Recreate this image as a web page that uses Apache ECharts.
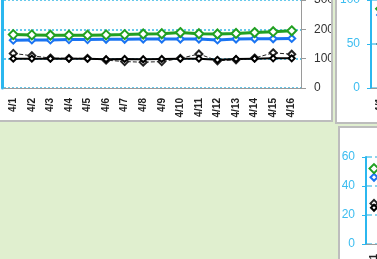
<!DOCTYPE html>
<html>
<head>
<meta charset="utf-8">
<script src="https://cdn.jsdelivr.net/npm/echarts@6/dist/echarts.min.js"></script>
<style>
  html, body { margin: 0; padding: 0; width: 377px; height: 259px; overflow: hidden; background: #e0efcf; }
  .panel { position: absolute; box-sizing: border-box; background: #fff; border: 2px solid #bdbdbd; }
  .chart { position: absolute; }
</style>
</head>
<body>
<div class="panel" style="left:-12px;top:-12px;width:345px;height:134px;"></div>
<div class="panel" style="left:335px;top:-12px;width:60px;height:136px;"></div>
<div class="panel" style="left:338px;top:126px;width:60px;height:150px;"></div>
<div id="main" class="chart" style="left:0;top:0;width:331px;height:120px;"></div>
<div id="sideTop" class="chart" style="left:337px;top:0;width:360px;height:122px;"></div>
<div id="sideBottom" class="chart" style="left:340px;top:128px;width:360px;height:131px;"></div>

<script>
// categories
var days = ['4/1', '4/2', '4/3', '4/4', '4/5', '4/6', '4/7', '4/8',
            '4/9', '4/10', '4/11', '4/12', '4/13', '4/14', '4/15', '4/16'];

// main chart values
var greenVals = [182, 181, 180, 180, 180, 181, 182, 184, 185, 189, 185, 184, 186, 189, 192, 195];
var blueVals  = [163, 164, 164, 165, 165, 166, 166, 167, 167, 167, 167, 164, 167, 168, 168, 169];
var blackVals = [100, 100, 100, 100, 100, 98, 99, 98, 99, 100, 100, 96, 99, 100, 101, 101];
var dashVals  = [118, 110, 102, 101, 101, 95, 90, 88, 90, 101, 116, 93, 96, 102, 120, 115];
var mainTicks = [0, 100, 200, 300];

// side charts (only the first points are in view)
var topGreen = [90];
var topBlue  = [83];
var topBlack = [50];
var topTicks = [0, 50, 100];

var botGreen = [52];
var botBlue  = [46];
var botBlack = [25];
var botDash  = [28];
var botTicks = [0, 20, 40, 60];

var cyan = '#2bb7ef';
var font = 'Liberation Sans';

function lineSeries(name, data, color, width, dashed, size) {
  return {
    name: name,
    type: 'line',
    data: data,
    symbol: 'emptyDiamond',
    symbolSize: size,
    showAllSymbol: true,
    lineStyle: { color: color, width: width, type: dashed ? 'dashed' : 'solid' },
    itemStyle: { color: color, borderWidth: 1.5 }
  }
}

function step(ticks) {
  return ticks[1] - ticks[0]
}

var mainChart = echarts.init(document.getElementById('main'))
mainChart.setOption({
  animation: false,
  grid: { left: 4, right: 30, top: 0, bottom: 32, outerBoundsMode: 'none' },
  xAxis: [
    {
      type: 'category',
      data: days,
      axisLine: { lineStyle: { color: '#9a9a9a' } },
      axisTick: { length: 3, lineStyle: { color: '#b5b5b5' } },
      axisLabel: { rotate: 90, margin: 10, fontSize: 10, fontWeight: 'bold', color: '#222', fontFamily: font }
    },
    {
      type: 'category',
      data: days,
      position: 'bottom',
      axisLine: { show: false },
      axisTick: { alignWithLabel: true, length: 8, lineStyle: { color: '#444', type: 'dotted' } },
      axisLabel: { show: false }
    }
  ],
  yAxis: [
    {
      type: 'value', position: 'left', offset: 2,
      min: mainTicks[0], max: mainTicks[mainTicks.length - 1], interval: step(mainTicks),
      axisLine: { show: true, lineStyle: { color: cyan, width: 3 } },
      axisTick: { show: false },
      axisLabel: { show: false },
      splitLine: { show: false }
    },
    {
      type: 'value', position: 'right',
      min: mainTicks[0], max: mainTicks[mainTicks.length - 1], interval: step(mainTicks),
      axisLine: { show: true, lineStyle: { color: '#9a9a9a' } },
      axisTick: { show: true, length: 5, lineStyle: { color: '#9a9a9a' } },
      axisLabel: { margin: 13, fontSize: 12, color: '#333', fontFamily: font },
      splitLine: { lineStyle: { color: '#66c8ea', type: 'dotted', width: 2 } }
    }
  ],
  series: [
    lineSeries('dash', dashVals, '#222', 1, true, 7),
    lineSeries('black', blackVals, '#000', 2, false, 6),
    lineSeries('blue', blueVals, '#1a74f2', 3, false, 7),
    lineSeries('green', greenVals, '#22a022', 3, false, 9)
  ]
})

function sideOption(grid, ticks, series) {
  grid.outerBoundsMode = 'none'
  return {
    animation: false,
    grid: grid,
    xAxis: {
      type: 'category',
      data: days,
      axisLine: { lineStyle: { color: '#9a9a9a' } },
      axisTick: { show: false },
      axisLabel: { rotate: 90, margin: 10, fontSize: 10, fontWeight: 'bold', color: '#222', fontFamily: font }
    },
    yAxis: {
      type: 'value',
      min: ticks[0], max: ticks[ticks.length - 1], interval: step(ticks),
      axisLine: { show: true, lineStyle: { color: cyan, width: 2 } },
      axisTick: { show: true, length: 4, lineStyle: { color: cyan } },
      axisLabel: { margin: 11, fontSize: 12, color: '#3cbdf0', fontFamily: font },
      splitLine: { lineStyle: { color: '#66c8ea', type: 'dashed', width: 1.5 } }
    },
    series: series
  }
}

var sideTop = echarts.init(document.getElementById('sideTop'))
sideTop.setOption(sideOption({ left: 34, right: 18, top: 0, bottom: 34 }, topTicks, [
  lineSeries('black', topBlack, '#000', 2, false, 6),
  lineSeries('blue', topBlue, '#1a74f2', 3, false, 7),
  lineSeries('green', topGreen, '#22a022', 3, false, 9)
]))

var sideBottom = echarts.init(document.getElementById('sideBottom'))
sideBottom.setOption(sideOption({ left: 26, right: 78, top: 29, bottom: 15 }, botTicks, [
  lineSeries('dash', botDash, '#222', 1, true, 7),
  lineSeries('black', botBlack, '#000', 2, false, 6),
  lineSeries('blue', botBlue, '#1a74f2', 3, false, 7),
  lineSeries('green', botGreen, '#22a022', 3, false, 9)
]))
</script>
</body>
</html>
